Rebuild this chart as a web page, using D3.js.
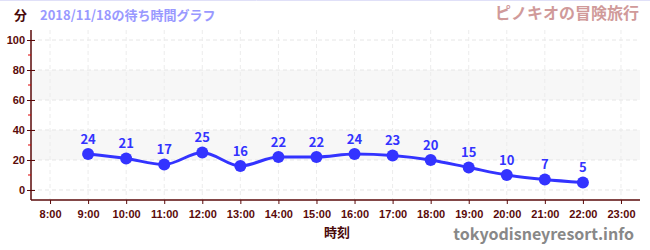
<!DOCTYPE html>
<html>
<head>
<meta charset="utf-8">
<script src="https://cdn.jsdelivr.net/npm/d3@7"></script>
<style>
  body { margin: 0; background: #fff; }
  svg { font-family: "Noto Sans CJK JP", "Noto Sans", sans-serif; }
</style>
</head>
<body>
<div id="chart"></div>
<script>
// data
const hours = [9, 10, 11, 12, 13, 14, 15, 16, 17, 18, 19, 20, 21, 22];
const waits = [24, 21, 17, 25, 16, 22, 22, 24, 23, 20, 15, 10, 7, 5];
const xTicks = [8, 9, 10, 11, 12, 13, 14, 15, 16, 17, 18, 19, 20, 21, 22, 23];
const yTicks = [0, 20, 40, 60, 80, 100];
const yMinorTicks = [10, 30, 50, 70, 90];
const bands = [[20, 40], [60, 80]];

const W = 650, H = 250;
const plotLeft = 31, plotRight = 640, plotTop = 30, plotBottom = 200;

const svg = d3.select('#chart').append('svg')
  .attr('width', W)
  .attr('height', H);

// top border
svg.append('line')
  .attr('x1', 0).attr('x2', W).attr('y1', 0.5).attr('y2', 0.5)
  .attr('stroke', '#e0e0f8');

const x = d3.scaleLinear().domain([7.5, 23.5]).range([plotLeft, plotRight]);
const y = d3.scaleLinear().domain([-6.67, 106.67]).range([plotBottom, plotTop]);

// bands
svg.selectAll('rect.band')
  .data(bands)
  .join('rect')
  .attr('class', 'band')
  .attr('x', plotLeft)
  .attr('width', plotRight - plotLeft)
  .attr('y', d => y(d[1]))
  .attr('height', d => y(d[0]) - y(d[1]))
  .attr('fill', '#f7f7f7');

// grid
svg.selectAll('line.hgrid')
  .data(yTicks)
  .join('line')
  .attr('class', 'hgrid')
  .attr('x1', plotLeft).attr('x2', plotRight)
  .attr('y1', d => y(d)).attr('y2', d => y(d))
  .attr('stroke', '#e6e6e6')
  .attr('stroke-dasharray', '4,3');

svg.selectAll('line.vgrid')
  .data(xTicks)
  .join('line')
  .attr('class', 'vgrid')
  .attr('x1', d => x(d)).attr('x2', d => x(d))
  .attr('y1', plotTop).attr('y2', plotBottom)
  .attr('stroke', '#ececec')
  .attr('stroke-dasharray', '4,3');

// axes
const axisColor = '#5a0a0a';
const xAxis = svg.append('g')
  .attr('transform', `translate(0,${plotBottom})`)
  .call(d3.axisBottom(x).tickValues(xTicks).tickSize(4).tickFormat(d => `${d}:00`));
xAxis.select('.domain').attr('stroke', axisColor).attr('stroke-width', 1.5)
  .attr('d', `M${plotLeft},0H${plotRight}`);
xAxis.selectAll('.tick line').attr('stroke', axisColor);
xAxis.selectAll('text')
  .attr('fill', axisColor)
  .attr('font-size', '11px')
  .attr('font-weight', 'bold')
  .attr('dy', '1em');

const yAxis = svg.append('g')
  .attr('transform', `translate(${plotLeft},0)`)
  .call(d3.axisLeft(y).tickValues(yTicks).tickSize(4));
yAxis.select('.domain').attr('stroke', axisColor).attr('stroke-width', 1.5)
  .attr('d', `M0,${plotTop}V${plotBottom}`);
yAxis.selectAll('.tick line').attr('stroke', axisColor).attr('x2', 4).attr('x1', -4);
yAxis.selectAll('text')
  .attr('fill', axisColor)
  .attr('font-size', '11px')
  .attr('font-weight', 'bold')
  .attr('x', -6);

svg.selectAll('line.minor')
  .data(yMinorTicks)
  .join('line')
  .attr('class', 'minor')
  .attr('x1', plotLeft - 3).attr('x2', plotLeft)
  .attr('y1', d => y(d)).attr('y2', d => y(d))
  .attr('stroke', '#dd0000');

// line
const pts = hours.map((h, i) => ({ h, v: waits[i] }));
const blue = '#3333ff';

svg.append('path')
  .datum(pts)
  .attr('fill', 'none')
  .attr('stroke', blue)
  .attr('stroke-width', 3)
  .attr('d', d3.line().x(d => x(d.h)).y(d => y(d.v)).curve(d3.curveMonotoneX));

svg.selectAll('circle.pt')
  .data(pts)
  .join('circle')
  .attr('class', 'pt')
  .attr('cx', d => x(d.h))
  .attr('cy', d => y(d.v))
  .attr('r', 6)
  .attr('fill', blue);

svg.selectAll('text.val')
  .data(pts)
  .join('text')
  .attr('class', 'val')
  .attr('x', d => x(d.h))
  .attr('y', d => y(d.v) - 10)
  .attr('text-anchor', 'middle')
  .attr('font-size', '13px')
  .attr('font-weight', 'bold')
  .attr('fill', blue)
  .text(d => d.v);

// titles
svg.append('text')
  .attr('x', 14).attr('y', 20)
  .attr('font-size', '13px').attr('font-weight', 'bold')
  .attr('fill', '#4a0a0a')
  .text('分');

svg.append('text')
  .attr('x', 40).attr('y', 20)
  .attr('font-size', '13px').attr('font-weight', 'bold')
  .attr('fill', '#9999ff')
  .text('2018/11/18の待ち時間グラフ');

svg.append('text')
  .attr('x', 639).attr('y', 19)
  .attr('text-anchor', 'end')
  .attr('font-size', '16px').attr('font-weight', 'bold')
  .attr('fill', '#d09a9a')
  .text('ピノキオの冒険旅行');

svg.append('text')
  .attr('x', 337).attr('y', 237)
  .attr('text-anchor', 'middle')
  .attr('font-size', '13px').attr('font-weight', 'bold')
  .attr('fill', '#4a0a0a')
  .text('時刻');

svg.append('text')
  .attr('x', 634).attr('y', 240)
  .attr('text-anchor', 'end')
  .attr('font-size', '16px').attr('font-weight', 'bold')
  .attr('fill', '#888888')
  .text('tokyodisneyresort.info');
</script>
</body>
</html>
